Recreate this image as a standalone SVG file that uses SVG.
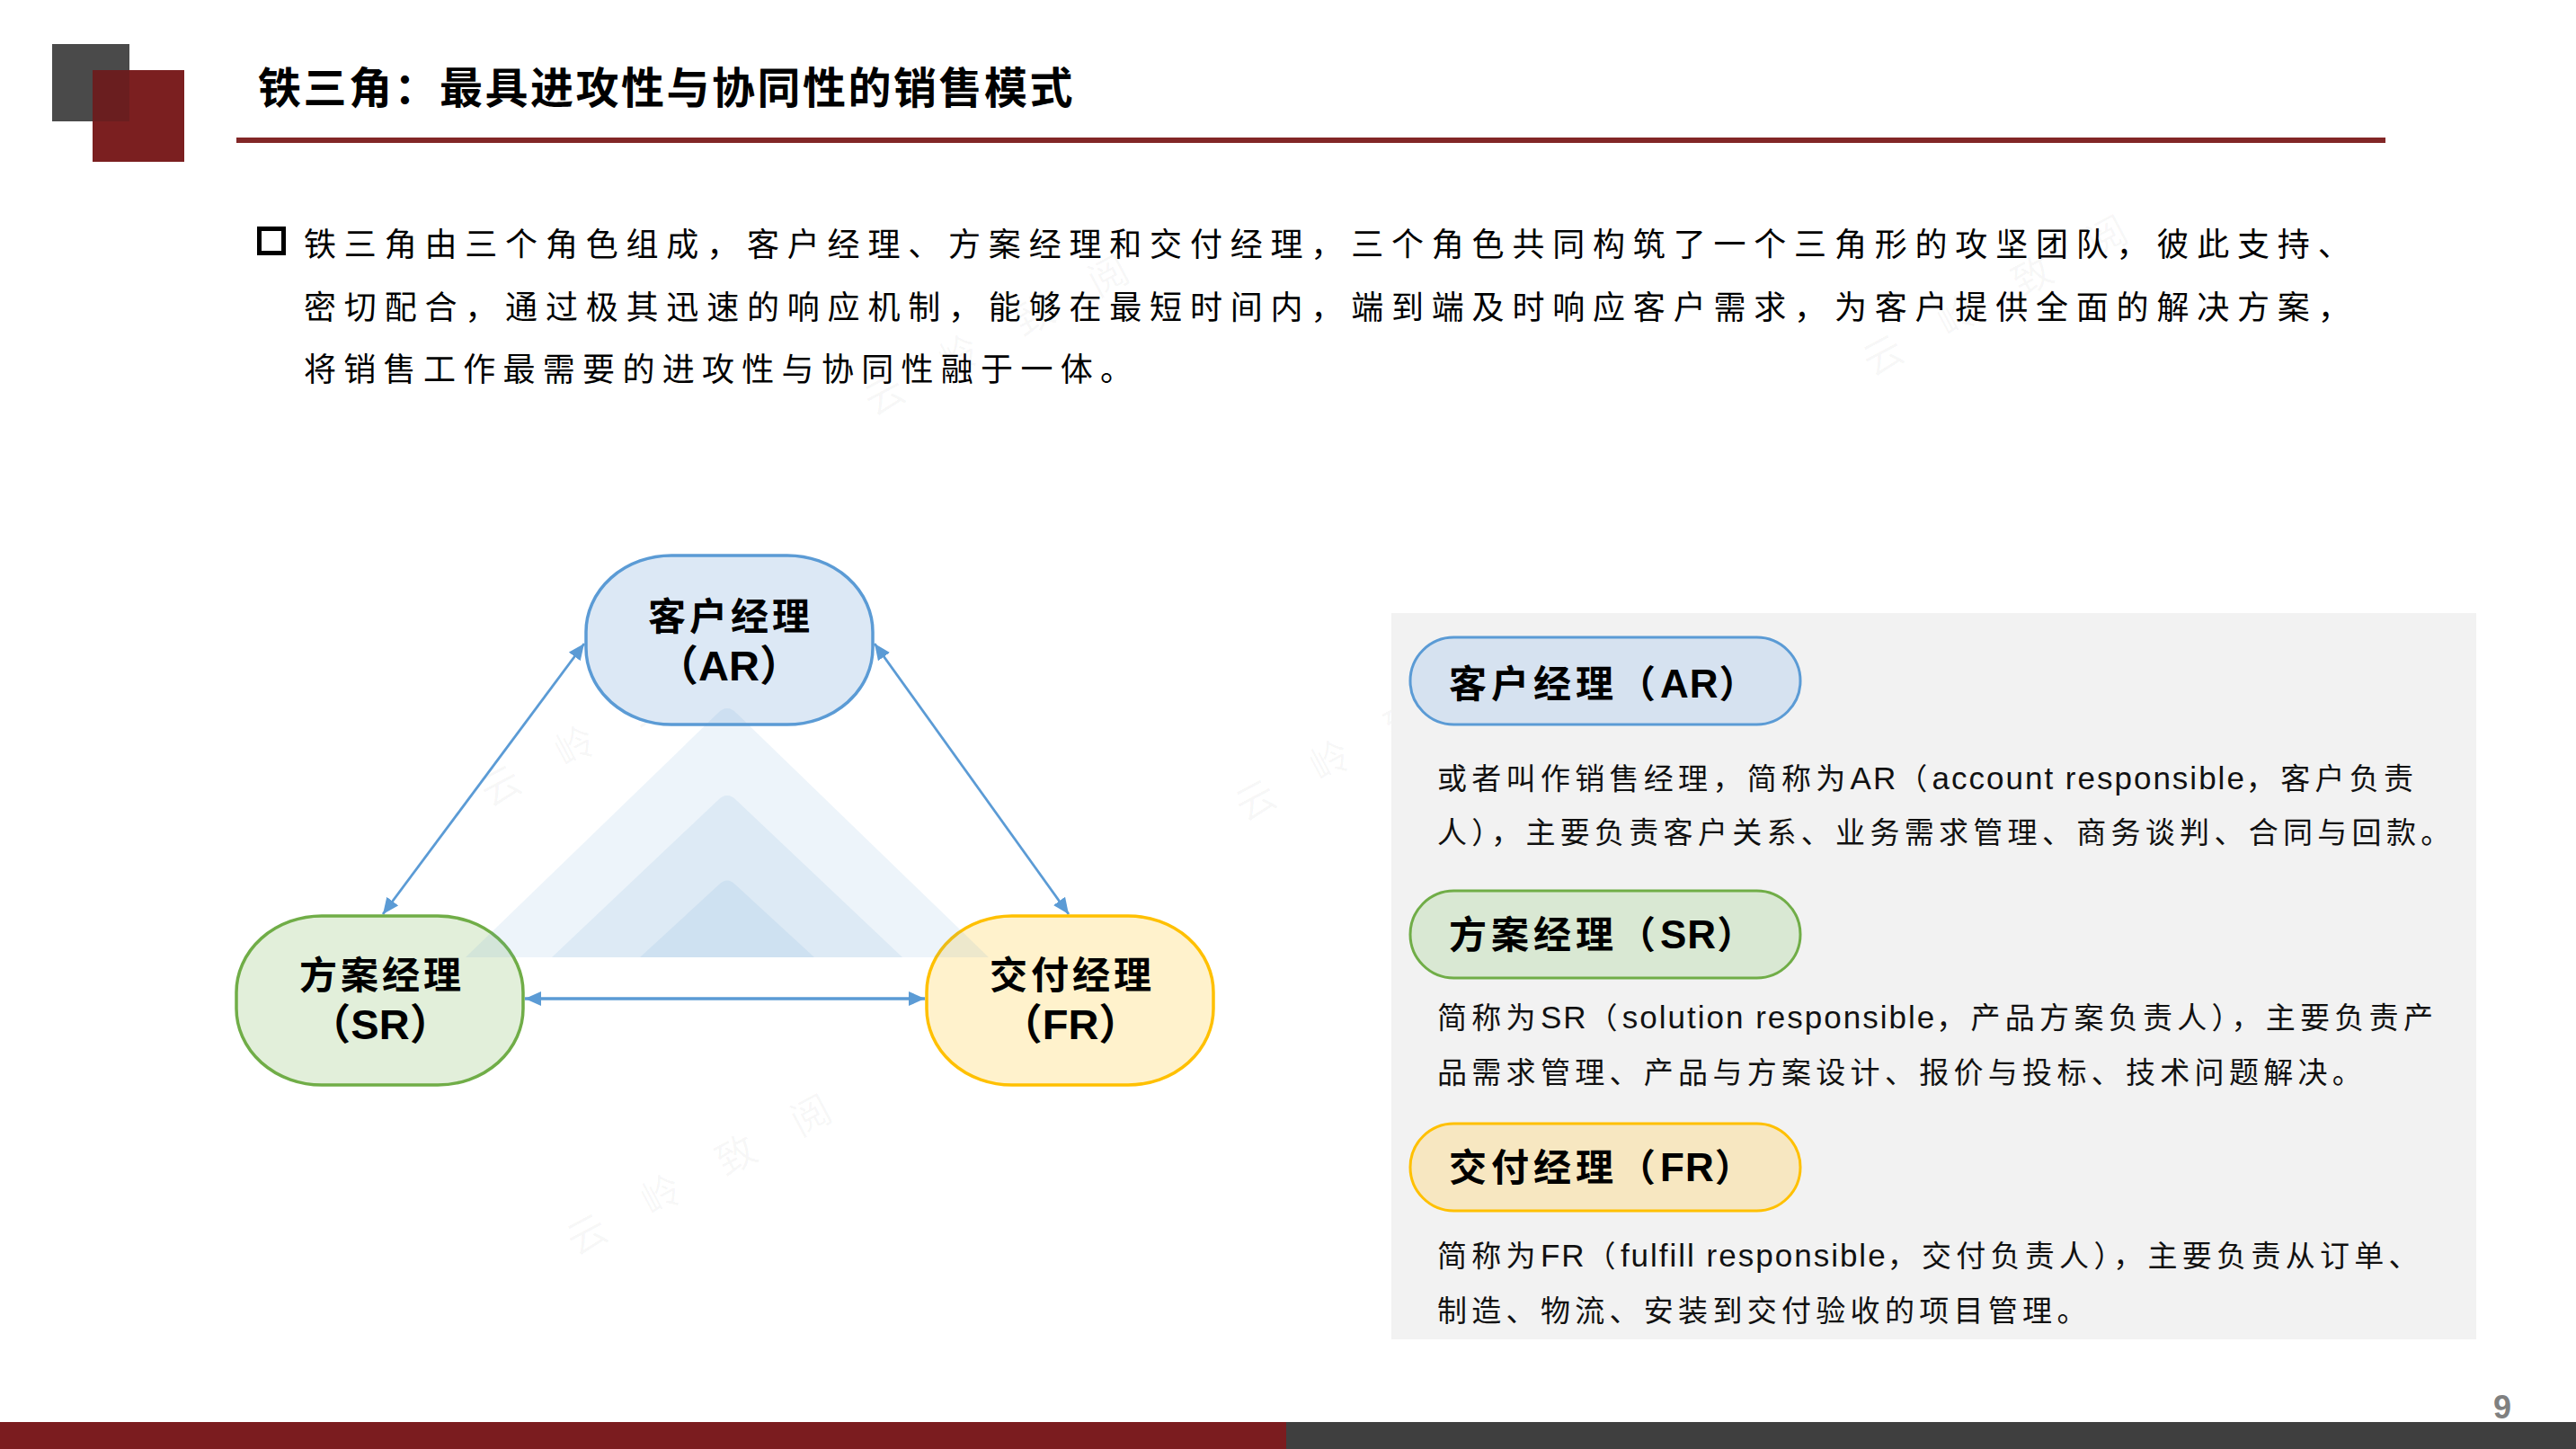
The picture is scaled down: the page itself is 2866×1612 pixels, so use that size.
<svg xmlns="http://www.w3.org/2000/svg" width="2866" height="1612" viewBox="0 0 2866 1612">
<defs>
<style>
.t{font-family:"Liberation Sans","Noto Sans CJK SC",sans-serif;}
.title{font-size:48px;font-weight:700;letter-spacing:2.5px;fill:#000}
.body{font-size:36px;letter-spacing:8.3px;fill:#000}
.lab{font-size:42px;font-weight:700;fill:#000;text-anchor:middle;letter-spacing:4px}
.labL{font-size:47px;font-weight:700;fill:#000;text-anchor:middle}
.pill{font-size:42px;font-weight:700;fill:#000;letter-spacing:5px}
.pl{font-size:44px;letter-spacing:1px}
.desc{font-size:33px;letter-spacing:5.3px;fill:#111}
.lat{font-size:35px;letter-spacing:2px}
.wm{font-family:"Noto Sans CJK SC",sans-serif;font-size:44px;letter-spacing:50px;fill:#000;fill-opacity:0.035}
.conn{stroke:#5b9bd5;fill:none}
.tri{fill:#5b9bd5;fill-opacity:0.11}
.node{stroke-width:3.5}
</style>
<marker id="ah" markerUnits="userSpaceOnUse" markerWidth="18" markerHeight="16" refX="18" refY="8" orient="auto-start-reverse"><path d="M0,0 L18,8 L0,16 z" fill="#5b9bd5"/></marker>
</defs>
<rect width="2866" height="1612" fill="#fff"/>

<g id="header">
<rect x="58" y="49" width="86" height="86" fill="#4a4a4a"/>
<rect x="103" y="78" width="102" height="102" fill="#7b1f20"/>
<rect x="103" y="78" width="41" height="57" fill="#6a1e1f"/>
<text class="t title" x="287" y="115">铁三角：最具进攻性与协同性的销售模式</text>
<rect x="263" y="153" width="2391" height="6" fill="#822727"/>
</g>

<g id="intro">
<rect x="288.5" y="254.5" width="27" height="27" fill="none" stroke="#000" stroke-width="5"/>
<text class="t body" x="338" y="285" textLength="2285" lengthAdjust="spacing">铁三角由三个角色组成，客户经理、方案经理和交付经理，三个角色共同构筑了一个三角形的攻坚团队，彼此支持、</text>
<text class="t body" x="338" y="354.5" textLength="2285" lengthAdjust="spacing">密切配合，通过极其迅速的响应机制，能够在最短时间内，端到端及时响应客户需求，为客户提供全面的解决方案，</text>
<text class="t body" x="338" y="424">将销售工作最需要的进攻性与协同性融于一体。</text>
</g>

<g id="watermarks">
<text class="wm" transform="translate(653,1373) rotate(-28)" x="-22" y="16">云岭致阅</text>
<text class="wm" transform="translate(557,874) rotate(-28)" x="-22" y="16">云岭致阅</text>
<text class="wm" transform="translate(1397,890) rotate(-28)" x="-22" y="16">云岭致阅</text>
<text class="wm" transform="translate(984,439) rotate(-28)" x="-22" y="16">云岭致阅</text>
<text class="wm" transform="translate(2095,395) rotate(-28)" x="-22" y="16">云岭致阅</text>
</g>

<g id="connectors">
<line class="conn" x1="650" y1="716" x2="426" y2="1017" stroke-width="2.8" marker-start="url(#ah)" marker-end="url(#ah)"/>
<line class="conn" x1="973" y1="716" x2="1189" y2="1017" stroke-width="2.8" marker-start="url(#ah)" marker-end="url(#ah)"/>
<line class="conn" x1="584" y1="1111" x2="1029" y2="1111" stroke-width="3.6" marker-start="url(#ah)" marker-end="url(#ah)"/>
</g>

<g id="node-ar">
<rect class="node" x="652" y="618" width="319" height="188" rx="95" ry="85" fill="#dce8f5" stroke="#5b9bd5"/>
<text class="t lab" x="813" y="701">客户经理</text>
<text class="t labL" x="811" y="757">（AR）</text>
</g>
<g id="node-sr">
<rect class="node" x="263" y="1019" width="319" height="188" rx="95" ry="85" fill="#e2efda" stroke="#70ad47"/>
<text class="t lab" x="425" y="1100">方案经理</text>
<text class="t labL" x="423" y="1156">（SR）</text>
</g>
<g id="node-fr">
<rect class="node" x="1031" y="1019" width="319" height="188" rx="95" ry="85" fill="#fff2cc" stroke="#ffc000"/>
<text class="t lab" x="1193" y="1100">交付经理</text>
<text class="t labL" x="1191" y="1156">（FR）</text>
</g>

<g id="triangles">
<path class="tri" d="M518,1065 L799,793 Q809,783 819,793 L1100,1065 Z"/>
<path class="tri" d="M614,1065 L799,890 Q809,880 819,890 L1004,1065 Z"/>
<path class="tri" d="M712,1065 L800,984 Q809,975 818,984 L906,1065 Z"/>
</g>

<g id="panel">
<rect x="1548" y="682" width="1207" height="808" fill="#f2f2f2"/>
</g>

<g id="card-ar">
<rect x="1569" y="709" width="434" height="97" rx="48.5" fill="#d6e2f0" stroke="#5b9bd5" stroke-width="3"/>
<text class="t pill" x="1612" y="776">客户经理（<tspan class="pl">AR</tspan>）</text>
<text class="t desc" x="1599" y="878">或者叫作销售经理，简称为<tspan class="lat">AR</tspan>（<tspan class="lat">account responsible</tspan>，客户负责</text>
<text class="t desc" x="1599" y="938">人），主要负责客户关系、业务需求管理、商务谈判、合同与回款。</text>
</g>
<g id="card-sr">
<rect x="1569" y="991" width="434" height="97" rx="48.5" fill="#d9e8d3" stroke="#70ad47" stroke-width="3"/>
<text class="t pill" x="1612" y="1055">方案经理（<tspan class="pl">SR</tspan>）</text>
<text class="t desc" x="1599" y="1144">简称为<tspan class="lat">SR</tspan>（<tspan class="lat">solution responsible</tspan>，产品方案负责人），主要负责产</text>
<text class="t desc" x="1599" y="1205">品需求管理、产品与方案设计、报价与投标、技术问题解决。</text>
</g>
<g id="card-fr">
<rect x="1569" y="1250" width="434" height="97" rx="48.5" fill="#f7e7c1" stroke="#ffc000" stroke-width="3"/>
<text class="t pill" x="1612" y="1314">交付经理（<tspan class="pl">FR</tspan>）</text>
<text class="t desc" x="1599" y="1409">简称为<tspan class="lat">FR</tspan>（<tspan class="lat">fulfill responsible</tspan>，交付负责人），主要负责从订单、</text>
<text class="t desc" x="1599" y="1470">制造、物流、安装到交付验收的项目管理。</text>
</g>

<g id="footer">
<rect x="0" y="1582" width="1431" height="30" fill="#7b1c1f"/>
<rect x="1431" y="1582" width="1435" height="30" fill="#3f3f3f"/>
<text class="t" x="2784" y="1578" font-size="36" font-weight="700" fill="#808080" text-anchor="middle">9</text>
</g>
</svg>
